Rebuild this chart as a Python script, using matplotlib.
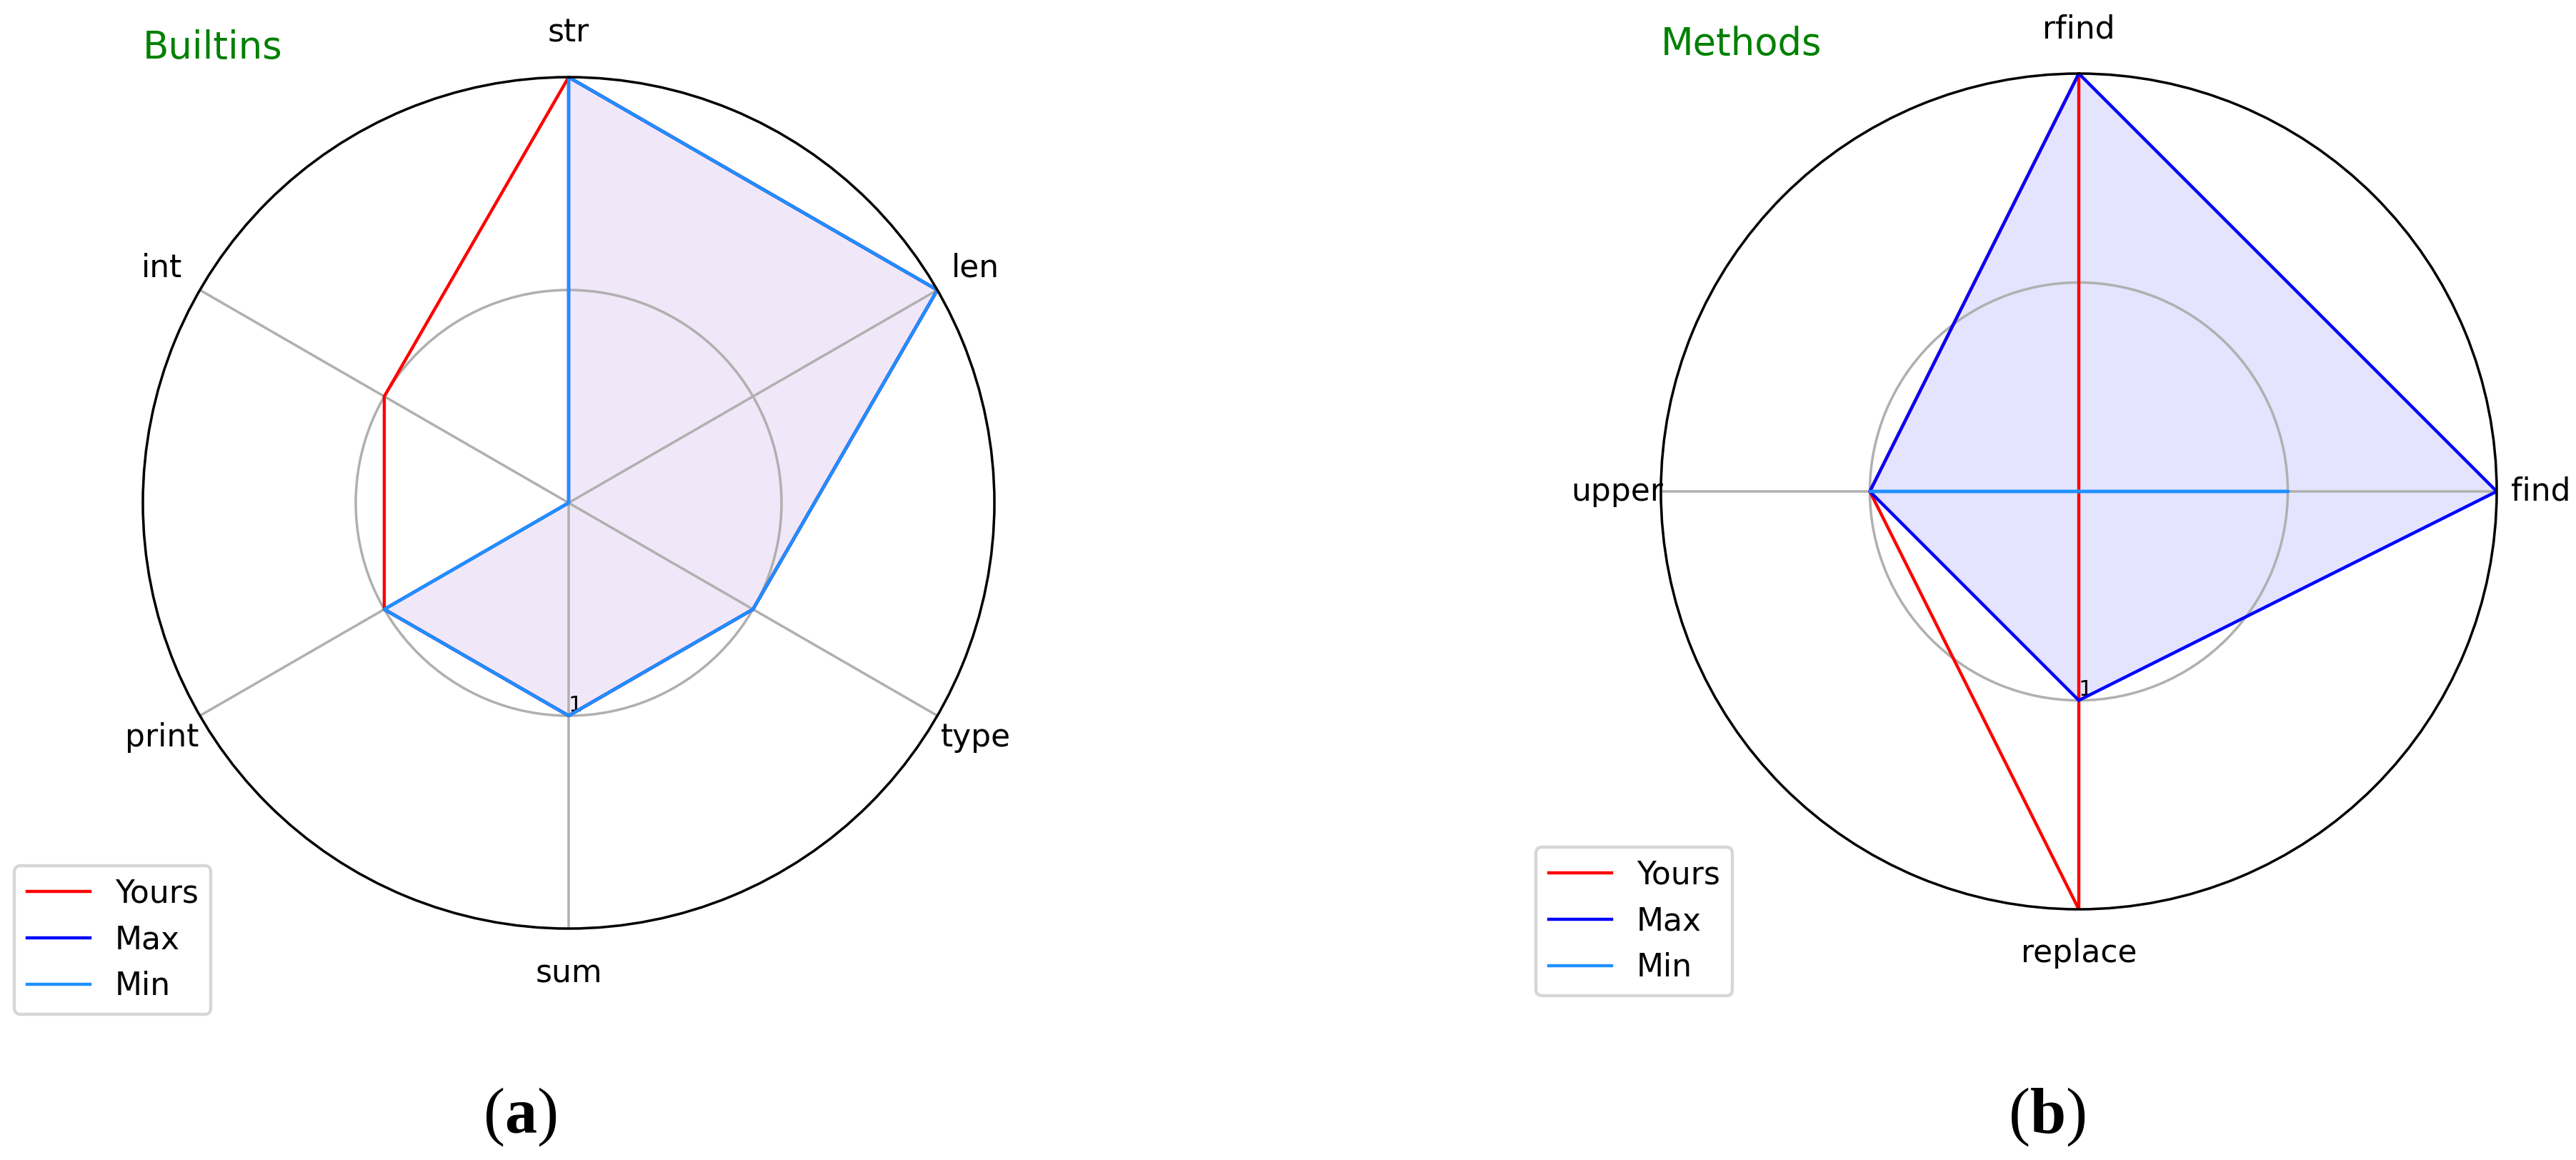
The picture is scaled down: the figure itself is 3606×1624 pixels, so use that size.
import numpy as np
import matplotlib
matplotlib.use("Agg")
import matplotlib.pyplot as plt

# (a) builtins, clockwise from the top
builtin_names = ["str", "len", "type", "sum", "print", "int"]
builtin_yours = [2, 2, 1, 1, 1, 1]
builtin_max = [2, 2, 1, 1, 1, 0]
builtin_min = [2, 2, 1, 1, 1, 0]

# (b) string methods, clockwise from the top
method_names = ["rfind", "find", "replace", "upper"]
method_yours = [2, 0, 2, 1]
method_max = [2, 2, 1, 1]
method_min = [0, 1, 0, 1]

DPI = 317
W, H = 3606, 1624

plt.rcParams["mathtext.fontset"] = "custom"
plt.rcParams["mathtext.rm"] = "Liberation Serif"
plt.rcParams["mathtext.bf"] = "Liberation Serif:bold"

fig = plt.figure(figsize=(W / DPI, H / DPI), dpi=DPI)


def px_rect(cx, cy, r):
    # square axes box from a centre and radius given in pixels
    return [(cx - r) / W, 1 - (cy + r) / H, 2 * r / W, 2 * r / H]


def radar(rect, names, yours, vmax, vmin, title, fill_color, legend_xy):
    ax = fig.add_axes(rect, projection="polar")
    n = len(names)
    angles = [i / n * 2 * np.pi for i in range(n)]
    angles += angles[:1]

    ax.set_theta_offset(np.pi / 2)
    ax.set_theta_direction(-1)
    ax.set_xticks(angles[:-1])
    ax.set_xticklabels(names)
    ax.set_rlabel_position(180)
    ax.set_yticks([1])
    ax.set_yticklabels(["1"], size=7)
    ax.set_ylim(0, 2)

    ax.plot(angles, yours + yours[:1], color="red", linewidth=1, label="Yours")
    ax.plot(angles, vmax + vmax[:1], color="blue", linewidth=1, label="Max")
    ax.fill(angles, vmax + vmax[:1], color=fill_color)
    ax.plot(angles, vmin + vmin[:1], color="dodgerblue", linewidth=1, label="Min")

    # fixed y so the title sits beside the top label, not above it
    ax.set_title(title, loc="left", color="green", y=1.0)
    ax.legend(loc="lower left", bbox_to_anchor=legend_xy,
              bbox_transform=fig.transFigure, borderaxespad=0)
    return ax


radar(px_rect(796, 704, 596), builtin_names, builtin_yours, builtin_max,
      builtin_min, "Builtins", "#f0e8f8", (20 / W, 1 - 1420 / H))
radar(px_rect(2910, 688, 585), method_names, method_yours, method_max,
      method_min, "Methods", "#e4e4fe", (2150 / W, 1 - 1394 / H))

# panel captions
fig.text(728 / W, 1 - 1586 / H, r"($\mathbf{a}$)", family="Liberation Serif",
         size=20.5, ha="center", va="baseline")
fig.text(2865 / W, 1 - 1586 / H, r"($\mathbf{b}$)", family="Liberation Serif",
         size=20.5, ha="center", va="baseline")

fig.savefig("out.png", dpi=DPI)
